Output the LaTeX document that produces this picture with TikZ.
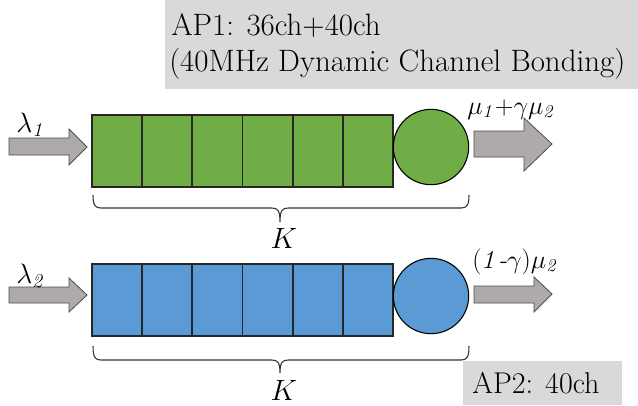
\documentclass[tikz,border=0pt]{standalone}
\usepackage{fix-cm}
\definecolor{qgreen}{HTML}{70AD47}
\definecolor{qblue}{HTML}{5B9BD5}
\definecolor{agray}{HTML}{AEAAAA}
\definecolor{bgray}{HTML}{D9D9D9}
\begin{document}
\begin{tikzpicture}[x=0.75pt,y=-0.75pt,
  cellbox/.style={draw=black!85,line width=1.3pt,minimum width=37.6pt,minimum height=54pt,inner sep=0pt,outer sep=0pt},
  server/.style={circle,draw=black,line width=0.8pt,minimum size=56.5pt,inner sep=0pt},
  blockarrow/.style={fill=agray,draw=black!70,line width=0.6pt},
  lbl/.style={font=\fontsize{21pt}{24pt}\selectfont,inner sep=0pt,anchor=base west},
  olbl/.style={lbl,font=\fontsize{19.5pt}{22pt}\selectfont},
  ttl/.style={font=\fontsize{23.2pt}{26pt}\selectfont,inner sep=0pt,anchor=base west},
  kl/.style={font=\fontsize{22pt}{24pt}\selectfont,inner sep=0pt,anchor=base},
  bracel/.style={draw=black!80,line width=0.8pt}]
\useasboundingbox (0,0) rectangle (638,405);
% title boxes
\fill[bgray] (165,0) rectangle (638,89);
\node[ttl] (t1) at (171,35) {AP1: 36ch+40ch};
\node[ttl] (t2) at (169,71) {(40MHz Dynamic Channel Bonding)};
\fill[bgray] (463,361) rectangle (622,405);
\node[ttl,font=\fontsize{22.5pt}{24pt}\selectfont] (t3) at (472,393) {AP2: 40ch};
% queues
\foreach \i in {1,...,6}{
  \node[cellbox,fill=qgreen] (g\i) at ({92+50.17*(\i-0.5)},151) {};
  \node[cellbox,fill=qblue] (b\i) at ({92+50.17*(\i-0.5)},300) {};
}
\node[server,fill=qgreen] (s1) at (431,147) {};
\node[server,fill=qblue] (s2) at (431,296) {};
% input arrows
\draw[blockarrow] (9,138) -- (69,138) -- (69,129) -- (87,147) -- (69,165) -- (69,155) -- (9,155) -- cycle;
\draw[blockarrow] (9,287) -- (69,287) -- (69,278) -- (87,295) -- (69,312) -- (69,303) -- (9,303) -- cycle;
% output arrows
\draw[blockarrow] (474,131) -- (524,131) -- (524,118) -- (552,144) -- (524,171) -- (524,157) -- (474,157) -- cycle;
\draw[blockarrow] (474,286) -- (534,286) -- (534,277) -- (552,294) -- (534,312) -- (534,303) -- (474,303) -- cycle;
% labels
\node[lbl] (l1) at (16,132) {$\lambda_{\mathit{1}}$};
\node[lbl] (l2) at (16,283) {$\lambda_{\mathit{2}}$};
\node[olbl] (m1) at (467,114) {$\mu_{\mathit{1}}{+}\gamma\mu_{\mathit{2}}$};
\node[olbl] (m2) at (472,268) {$(\mathit{1}\mbox{\itshape -}\gamma)\mu_{\mathit{2}}$};
% braces
\draw[bracel] (93,195) .. controls (93,205) and (95,208) .. (101,208) -- (272,208) .. controls (278,208) and (280,211) .. (280,222) .. controls (280,211) and (282,208) .. (288,208) -- (461,208) .. controls (467,208) and (469,205) .. (469,195);
\draw[bracel] (93,346) .. controls (93,357) and (95,360) .. (101,360) -- (272,360) .. controls (278,360) and (280,363) .. (280,373) .. controls (280,363) and (282,360) .. (288,360) -- (461,360) .. controls (467,360) and (469,357) .. (469,346);
\node[kl] (k1) at (284,248) {$K$};
\node[kl] (k2) at (284,400) {$K$};
\end{tikzpicture}
\end{document}
